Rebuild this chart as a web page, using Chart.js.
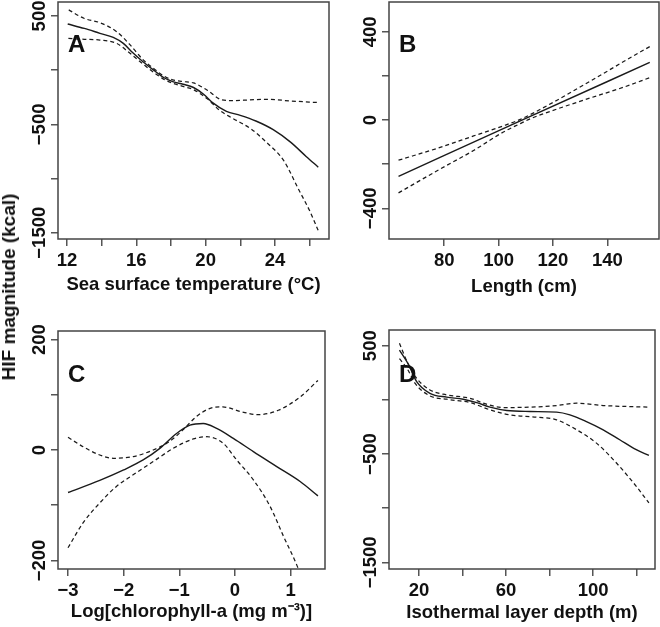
<!DOCTYPE html>
<html><head><meta charset="utf-8">
<script src="https://cdn.jsdelivr.net/npm/chart.js@4.4.1/dist/chart.umd.min.js"></script>
<style>
html,body{margin:0;padding:0;background:#fff;}
#wrap{position:relative;width:660px;height:627px;overflow:hidden;}
canvas{position:absolute;}
#ytitle{position:absolute;font:bold 19px "Liberation Sans",Arial,sans-serif;left:9px;top:287px;transform:translate(-50%,-50%) rotate(-90deg);white-space:nowrap;color:#111;}
</style></head><body>
<div id="wrap">
<canvas id="cA" width="330" height="310" style="left:0;top:0"></canvas>
<canvas id="cB" width="330" height="310" style="left:330px;top:0"></canvas>
<canvas id="cC" width="330" height="317" style="left:0;top:310px"></canvas>
<canvas id="cD" width="330" height="317" style="left:330px;top:310px"></canvas>
<div id="ytitle">HIF magnitude (kcal)</div>
</div>
<script>
// ---------- Panel A: Sea surface temperature ----------
const aFitX = [12.04, 13.0, 13.9, 14.67, 15.25, 15.8, 16.4, 17.0, 17.6, 18.1, 18.7, 19.3, 19.9, 20.4, 21.2, 22.0, 22.9, 23.9, 24.9, 25.8, 26.5];
const aFitY = [426, 385, 340, 302, 247, 160, 75, 0, -70, -105, -130, -160, -225, -300, -380, -417, -469, -549, -664, -796, -895];
const aUpX = [12.1, 13.0, 13.9, 14.87, 15.6, 16.4, 17.0, 17.6, 18.1, 18.7, 19.3, 20.1, 20.9, 21.6, 22.5, 23.5, 24.9, 26.5];
const aUpY = [556, 477, 438, 355, 240, 95, 15, -55, -90, -105, -118, -185, -272, -281, -275, -269, -284, -299];
const aLoX = [12.08, 13.0, 13.9, 14.87, 15.6, 16.4, 17.0, 17.6, 18.1, 18.7, 19.3, 20.1, 20.8, 21.6, 22.6, 23.5, 24.5, 25.4, 26.0, 26.5];
const aLoY = [293, 285, 278, 247, 160, 55, -20, -85, -120, -150, -180, -265, -370, -448, -540, -664, -833, -1111, -1296, -1481];
const aXTicks = [12, 14, 16, 18, 20, 22, 24, 26];
const aXLabels = [12, 16, 20, 24];
const aYTicks = [500, 0, -500, -1000, -1500];
const aYLabels = [500, -500, -1500];

// ---------- Panel B: Length ----------
const bFitX = [63.2, 109, 155.6];
const bFitY = [-255, 2, 261];
const bUpX = [63.2, 78.5, 90.8, 101.8, 108, 111.7, 121.5, 133.7, 146, 155.6];
const bUpY = [-182, -124, -72, -26, 3, 25, 90, 176, 265, 333];
const bLoX = [63.2, 78.5, 90.8, 101.8, 108, 111.7, 121.5, 133.7, 146, 155.6];
const bLoY = [-330, -222, -138, -54, -16, 6, 50, 100, 149, 192];
const bXTicks = [80, 100, 120, 140];
const bXLabels = [80, 100, 120, 140];
const bYTicks = [400, 200, 0, -200, -400];
const bYLabels = [400, 0, -400];

// ---------- Panel C: Log chlorophyll-a ----------
const cFitX = [-3.0, -2.43, -2.0, -1.65, -1.35, -1.05, -0.81, -0.57, -0.33, -0.03, 0.33, 0.75, 1.17, 1.49];
const cFitY = [-77, -55, -36, -18, 3, 30, 45, 48, 39, 21, -3, -30, -57, -83];
const cUpX = [-3.0, -2.73, -2.43, -2.19, -1.83, -1.47, -1.18, -0.94, -0.70, -0.46, -0.22, 0.12, 0.42, 0.78, 1.17, 1.49];
const cUpY = [23, 6, -9, -15, -12, 0, 15, 36, 60, 75, 78, 69, 64, 72, 96, 126];
const cLoX = [-3.0, -2.73, -2.43, -2.13, -1.83, -1.47, -1.11, -0.75, -0.51, -0.21, 0.03, 0.33, 0.63, 0.87, 1.13, 1.3];
const cLoY = [-177, -132, -96, -66, -45, -21, 3, 20, 24, 12, -18, -54, -102, -156, -213, -260];
const cXTicks = [-3, -2, -1, 0, 1];
const cXLabels = [-3, -2, -1, 0, 1];
const cYTicks = [200, 100, 0, -100, -200];
const cYLabels = [200, 0, -200];

// ---------- Panel D: Isothermal layer depth ----------
const dFitX = [11.0, 15.3, 18.9, 25, 32.7, 40.3, 46.5, 52.6, 60.3, 71, 83.2, 89.3, 96.9, 104.6, 112.2, 119.8, 125.6];
const dFitY = [460, 322, 169, 61, 25, 6, -25, -67, -98, -107, -113, -138, -200, -276, -368, -460, -513];
const dUpX = [11.0, 14.5, 18.3, 25, 32.7, 43.4, 51, 58.6, 71, 83.2, 92.4, 104.6, 125.6];
const dUpY = [522, 353, 215, 92, 46, 15, -40, -71, -67, -52, -31, -52, -67];
const dLoX = [11.0, 14.5, 18.3, 25, 32.7, 43.4, 52.6, 61.7, 74, 83.2, 92.4, 101.5, 110.7, 119.8, 125.6];
const dLoY = [380, 290, 150, 37, 6, -25, -92, -138, -160, -184, -276, -399, -583, -798, -951];
const dXTicks = [20, 40, 60, 80, 100, 120];
const dXLabels = [20, 60, 100];
const dYTicks = [500, 0, -500, -1000, -1500];
const dYLabels = [500, -500, -1500];

const FAMILY = '"Liberation Sans", Arial, sans-serif';
const fmt = v => (v < 0 ? '\u2212' + Math.abs(v) : String(v));
const pts = (xs, ys) => xs.map((x, i) => ({x: x, y: ys[i]}));

const deco = {
  id: 'deco',
  afterDraw(chart, args, o) {
    const ctx = chart.ctx, a = chart.chartArea, ys = chart.scales.y;
    ctx.save();
    ctx.strokeStyle = '#444'; ctx.lineWidth = 1.5;
    ctx.strokeRect(a.left, a.top, a.right - a.left, a.bottom - a.top);
    ctx.fillStyle = '#111';
    ctx.font = 'bold 24px ' + FAMILY;
    ctx.textAlign = 'left'; ctx.textBaseline = 'alphabetic';
    ctx.fillText(o.letter, a.left + 10, a.top + o.letterDy);
    ctx.font = 'bold 18.5px ' + FAMILY;
    ctx.textAlign = 'center'; ctx.textBaseline = 'middle';
    o.yLabels.forEach(v => {
      const py = ys.getPixelForValue(v);
      ctx.save();
      ctx.translate(a.left - 18, py);
      ctx.rotate(-Math.PI / 2);
      ctx.fillText(fmt(v), 0, 0);
      ctx.restore();
    });
    ctx.restore();
  }
};

function line(data, dashed) {
  return {
    data: data, borderColor: '#1a1a1a', borderWidth: dashed ? 1.25 : 1.4,
    borderDash: dashed ? [4, 3] : [], pointRadius: 0, fill: false,
    tension: 0.4, cubicInterpolationMode: 'monotone'
  };
}

function panel(id, p) {
  const canvas = document.getElementById(id);
  const W = canvas.width, H = canvas.height;
  const gridOpts = {display: true, drawOnChartArea: false, drawTicks: true, tickLength: 7, color: '#555', lineWidth: 1.5};
  new Chart(canvas, {
    type: 'line',
    data: {datasets: [line(pts(p.fitX, p.fitY), false), line(pts(p.upX, p.upY), true), line(pts(p.loX, p.loY), true)]},
    options: {
      responsive: false, animation: false, devicePixelRatio: 1,
      layout: {padding: {left: 0, top: p.top, right: W - p.right, bottom: 0}},
      plugins: {legend: {display: false}, tooltip: {enabled: false}, deco: {letter: p.letter, letterDy: p.letterDy, yLabels: p.yLabels}},
      scales: {
        x: {
          type: 'linear', min: p.xMin, max: p.xMax,
          afterBuildTicks: s => { s.ticks = p.xTicks.map(v => ({value: v})); },
          afterFit: s => { s.height = H - p.bottom; },
          grid: gridOpts, border: {display: false},
          ticks: {autoSkip: false, maxRotation: 0, minRotation: 0, padding: 4, color: '#111',
                  font: {family: FAMILY, size: 18.5, weight: 'bold'},
                  callback: v => (p.xLabels.includes(v) ? fmt(v) : '')},
          title: {display: true, text: p.xTitle, color: '#111', font: {family: FAMILY, size: 18.5, weight: 'bold'},
                  padding: {top: 0, bottom: p.titlePad}}
        },
        y: {
          type: 'linear', min: p.yMin, max: p.yMax,
          afterBuildTicks: s => { s.ticks = p.yTicks.map(v => ({value: v})); },
          afterFit: s => { s.width = p.left; },
          grid: gridOpts, border: {display: false},
          ticks: {display: false}
        }
      }
    },
    plugins: [deco]
  });
}

panel('cA', {fitX: aFitX, fitY: aFitY, upX: aUpX, upY: aUpY, loX: aLoX, loY: aLoY,
  xTicks: aXTicks, xLabels: aXLabels, yTicks: aYTicks, yLabels: aYLabels,
  xMin: 11.48, xMax: 27.12, yMin: -1558, yMax: 629, left: 58, right: 329, top: 2, bottom: 239,
  letter: 'A', letterDy: 50, xTitle: 'Sea surface temperature (\u00B0C)', titlePad: 14});
panel('cB', {fitX: bFitX, fitY: bFitY, upX: bUpX, upY: bUpY, loX: bLoX, loY: bLoY,
  xTicks: bXTicks, xLabels: bXLabels, yTicks: bYTicks, yLabels: bYLabels,
  xMin: 59.7, xMax: 159.0, yMin: -539, yMax: 535, left: 59, right: 329, top: 2, bottom: 239,
  letter: 'B', letterDy: 50, xTitle: 'Length (cm)', titlePad: 12});
panel('cC', {fitX: cFitX, fitY: cFitY, upX: cUpX, upY: cUpY, loX: cLoX, loY: cLoY,
  xTicks: cXTicks, xLabels: cXLabels, yTicks: cYTicks, yLabels: cYLabels,
  xMin: -3.18, xMax: 1.617, yMin: -215.5, yMax: 215.5, left: 58, right: 325, top: 21, bottom: 259,
  letter: 'C', letterDy: 51, xTitle: 'Log[chlorophyll-a (mg m\u207B\u00B3)]', titlePad: 4});
panel('cD', {fitX: dFitX, fitY: dFitY, upX: dUpX, upY: dUpY, loX: dLoX, loY: dLoY,
  xTicks: dXTicks, xLabels: dXLabels, yTicks: dYTicks, yLabels: dYLabels,
  xMin: 6.2, xMax: 128.4, yMin: -1561, yMax: 645, left: 59, right: 325, top: 20, bottom: 259,
  letter: 'D', letterDy: 52, xTitle: 'Isothermal layer depth (m)', titlePad: 3});
</script>
</body></html>
